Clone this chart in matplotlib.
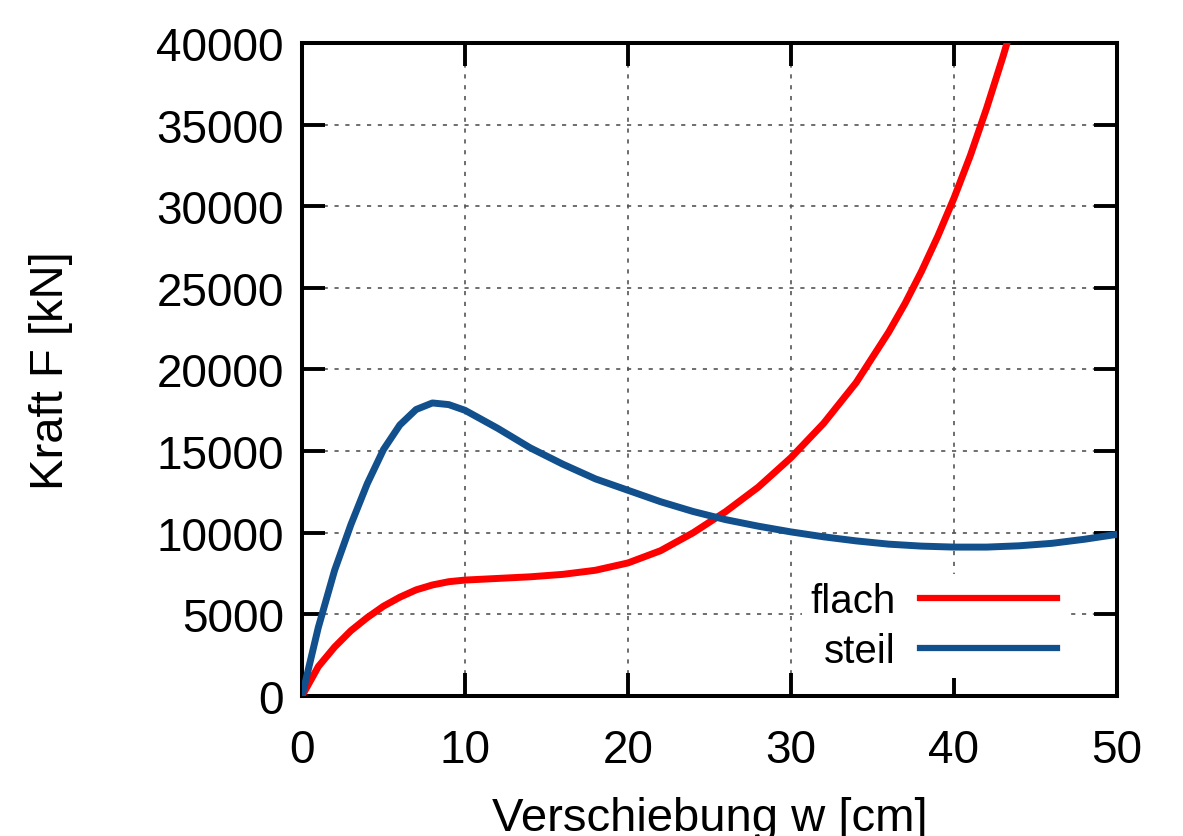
import numpy as np
import matplotlib
matplotlib.use("Agg")
from matplotlib import pyplot as plt

# Verschiebung w [cm] and Kraft F [kN]
w_flach = [0, 1, 2, 3, 4, 5, 6, 7, 8, 9, 10, 12, 14, 16, 18, 20, 22, 24, 26,
           28, 30, 32, 34, 36, 37, 38, 39, 40, 41, 42, 43, 44]
F_flach = [0, 1800, 3000, 4000, 4800, 5500, 6050, 6500, 6800, 7000, 7100, 7200,
           7300, 7450, 7700, 8150, 8900, 10000, 11300, 12800, 14600, 16700,
           19200, 22300, 24050, 26000, 28150, 30500, 33100, 36000, 39150,
           42500]

w_steil = [0, 1, 2, 3, 4, 5, 6, 7, 8, 9, 10, 12, 14, 16, 18, 20, 22, 24, 26,
           28, 30, 32, 34, 36, 38, 40, 42, 44, 46, 48, 50]
F_steil = [0, 4200, 7700, 10500, 13000, 15100, 16600, 17550, 17950, 17850,
           17500, 16400, 15200, 14200, 13300, 12600, 11900, 11300, 10800,
           10400, 10050, 9750, 9500, 9300, 9180, 9120, 9120, 9200, 9350, 9600,
           9900]

x_ticks = [0, 10, 20, 30, 40, 50]
y_ticks = [0, 5000, 10000, 15000, 20000, 25000, 30000, 35000, 40000]

plt.rcParams['font.family'] = ['Liberation Sans', 'DejaVu Sans']

fig = plt.figure(figsize=(11.83, 8.37), dpi=100)
ax = fig.add_axes([0.2553, 0.1673, 0.9442 - 0.2553, 0.9474 - 0.1673])

ax.plot(w_flach, F_flach, color='#ff0000', lw=5, label='flach', zorder=3)
ax.plot(w_steil, F_steil, color='#11508c', lw=5, label='steil', zorder=3)

ax.set_xlim(0, 50)
ax.set_ylim(0, 40000)
ax.set_xticks(x_ticks)
ax.set_yticks(y_ticks)

# gnuplot-like frame: inward ticks on all sides, dotted grid
ax.tick_params(direction='in', length=16.5, width=2.8, labelsize=33,
               top=True, right=True)
ax.tick_params(axis='y', pad=13)
ax.tick_params(axis='x', pad=23)
for s in ax.spines.values():
    s.set_linewidth(2.9)
ax.grid(True, color='#555555', lw=1.2, linestyle=(0, (2.5, 4)), zorder=1)
ax.set_axisbelow(True)

ax.set_xlabel('Verschiebung w [cm]', fontsize=34, labelpad=17)
ax.set_ylabel('Kraft F [kN]', fontsize=34, labelpad=60)

leg = ax.legend(loc='lower right', bbox_to_anchor=(0.936, 0.027),
                fontsize=29, markerfirst=False,
                frameon=True, framealpha=1, edgecolor='none', fancybox=False,
                handlelength=3.4, handletextpad=0.6, labelspacing=0.3,
                borderaxespad=0.0, borderpad=0.2)
for line in leg.get_lines():
    line.set_linewidth(4.5)

fig.savefig('out.png', dpi=100)
